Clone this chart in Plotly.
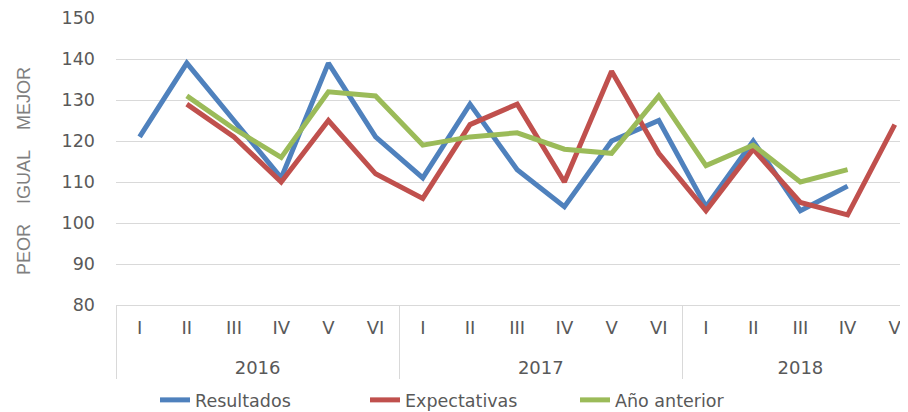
import plotly.graph_objects as go

years = ["2016"] * 6 + ["2017"] * 6 + ["2018"] * 5
quarters = ["I", "II", "III", "IV", "V", "VI",
            "I", "II", "III", "IV", "V", "VI",
            "I", "II", "III", "IV", "V"]

resultados = [121, 139, 125, 111, 139, 121,
              111, 129, 113, 104, 120, 125,
              104, 120, 103, 109, None]
expectativas = [None, 129, 121, 110, 125, 112,
                106, 124, 129, 110, 137, 117,
                103, 118, 105, 102, 124]
anio_anterior = [None, 131, 123, 116, 132, 131,
                 119, 121, 122, 118, 117, 131,
                 114, 119, 110, 113, None]

names = ["Resultados", "Expectativas", "Año anterior"]
colors = ["#4F81BD", "#C0504D", "#9BBB59"]
series = [resultados, expectativas, anio_anterior]

year_labels = ["<br>" + y for y in years]

fig = go.Figure()
for name, color, vals in zip(names, colors, series):
    fig.add_trace(go.Scatter(
        x=[year_labels, quarters], y=vals, name=name, mode="lines",
        line=dict(color=color, width=5), connectgaps=False,
    ))

lab = "DejaVu Sans, sans-serif"

fig.add_annotation(
    text="PEOR\u00a0\u00a0\u00a0\u00a0IGUAL\u00a0\u00a0\u00a0\u00a0MEJOR",
    xref="paper", yref="paper", x=-0.116, y=0.467,
    xanchor="center", yanchor="middle", textangle=-90, showarrow=False,
    font=dict(family="Liberation Sans, Arial, sans-serif", size=18, color="#7f7f7f"),
)

fig.update_layout(
    width=900, height=404,
    margin=dict(l=108, r=0, t=10, b=107, autoexpand=False),
    paper_bgcolor="white", plot_bgcolor="white",
    showlegend=True,
    legend=dict(orientation="h", xref="paper", yref="paper",
                x=0.447, xanchor="center", y=-0.331, yanchor="middle",
                font=dict(family=lab, size=17.5, color="#595959"),
                itemwidth=30, tracegroupgap=0,
                entrywidth=165, entrywidthmode="pixels"),
    xaxis=dict(
        type="multicategory",
        range=[-0.5, 16.28],
        automargin=False,
        showgrid=False,
        showline=True, linecolor="#d9d9d9", linewidth=1,
        showdividers=True, dividercolor="#d9d9d9", dividerwidth=1,
        ticks="", ticklabelstandoff=6,
        tickfont=dict(family=lab, size=18, color="#595959"),
    ),
    yaxis=dict(
        range=[80, 150], dtick=10,
        automargin=False,
        showgrid=True, gridcolor="#d9d9d9", gridwidth=1,
        zeroline=False, showline=False, ticks="",
        tickfont=dict(family=lab, size=17.5, color="#595959"),
        ticklabelstandoff=20,
    ),
)

fig.write_html("out.html")
